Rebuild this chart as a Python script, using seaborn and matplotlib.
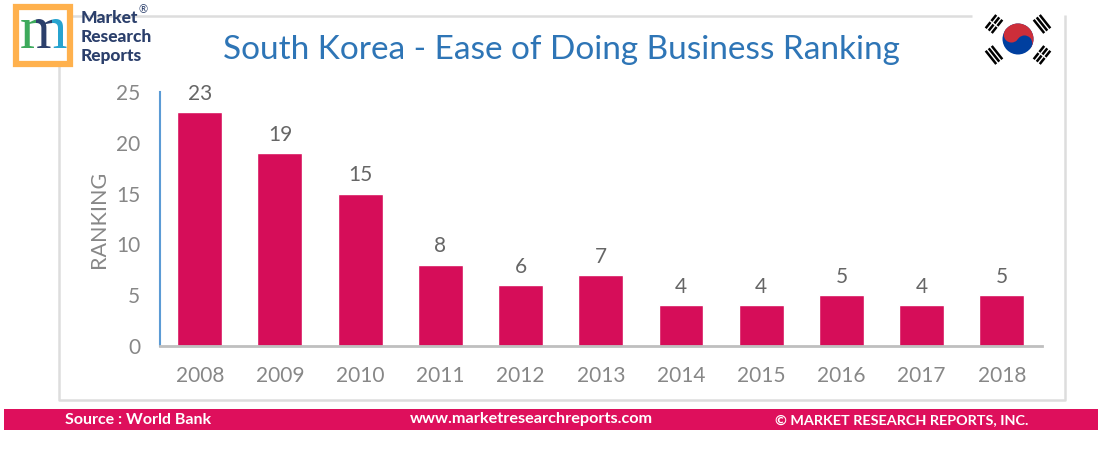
import matplotlib
matplotlib.use("Agg")
import matplotlib.pyplot as plt
import matplotlib.patches as mpatches
import numpy as np
import pandas as pd
import seaborn as sns

years = ["2008", "2009", "2010", "2011", "2012", "2013", "2014", "2015", "2016", "2017", "2018"]
ranking = [23, 19, 15, 8, 6, 7, 4, 4, 5, 4, 5]
y_ticks = [0, 5, 10, 15, 20, 25]

BAR = "#D60D59"
BANNER = "#DE0F5C"
GREY = "#878787"
FONT = "Lato"


def draw_flag(bg):
    """Korean flag, coordinates are figure pixels"""
    cx, cy, r = 1018, 39, 15.5
    a = 33
    bg.add_patch(mpatches.Circle((cx, cy), r, color="#003F9F", lw=0))
    bg.add_patch(mpatches.Wedge((cx, cy), r, a + 180, a + 360, color="#CD2E3A", lw=0))
    dx = r / 2 * np.cos(np.radians(a))
    dy = r / 2 * np.sin(np.radians(a))
    bg.add_patch(mpatches.Circle((cx - dx, cy - dy), r / 2, color="#CD2E3A", lw=0))
    bg.add_patch(mpatches.Circle((cx + dx, cy + dy), r / 2, color="#003F9F", lw=0))

    # the four trigrams
    for tx, ty, sx, sy in [(994, 24, -1, -1), (1042, 24, 1, -1), (994, 55, -1, 1), (1042, 55, 1, 1)]:
        ux, uy = sx * 0.78, sy * 0.62  # pointing away from the centre
        vx, vy = -uy, ux
        for k in [-1, 0, 1]:
            mx, my = tx + ux * k * 3.9, ty + uy * k * 3.9
            bg.plot([mx - vx * 8.5, mx + vx * 8.5], [my - vy * 8.5, my + vy * 8.5],
                    color="black", lw=1.8, solid_capstyle="butt")
        if sx * sy > 0:
            bg.plot([tx - ux * 7, tx + ux * 7], [ty - uy * 7, ty + uy * 7],
                    color="white", lw=1.0, solid_capstyle="butt")


def draw_logo(bg):
    bg.add_patch(mpatches.Rectangle((16, 7), 54, 57, fc="white", ec="#FFB14D", lw=4.5, zorder=3))
    for color, x0, w in [("#3DAA5C", 18, 18), ("#2B3F6B", 36, 16), ("#27A3CF", 52, 17)]:
        t = bg.text(43.5, 33, "m", family="Liberation Serif", fontsize=44, color=color,
                    ha="center", va="center", zorder=4, clip_on=True)
        t.set_clip_path(mpatches.Rectangle((x0, 8), w, 55, transform=bg.transData))
    for y, s in [(18, "Market"), (37, "Research"), (56, "Reports")]:
        bg.text(81, y, s, family=FONT, fontsize=12.5, fontweight="black", color="#2B3F6B",
                ha="left", va="center")
    bg.text(143, 10, "®", family=FONT, fontsize=8, color="#2B3F6B", ha="center", va="center")


sns.set_theme(style="white")
plt.rcParams["font.family"] = [FONT, "DejaVu Sans"]

fig = plt.figure(figsize=(11, 4.5), dpi=100)

# background layer in pixel coordinates for frame, banner and logos
bg = fig.add_axes([0, 0, 1, 1], zorder=0)
bg.set_xlim(0, 1100)
bg.set_ylim(450, 0)
bg.axis("off")

bg.plot([59, 59, 1065, 1065], [16, 399.5, 399.5, 15], color="#DDDDDD", lw=1.8, solid_capstyle="butt")
bg.plot([59, 972], [16, 16], color="#DDDDDD", lw=1.8, solid_capstyle="butt")
bg.add_patch(mpatches.Rectangle((4, 409), 1094, 21, fc=BANNER, ec="none"))

bg.text(561, 50, "South Korea - Ease of Doing Business Ranking", fontsize=24, color="#2E75B6",
        ha="center", va="center")
bg.text(138, 419.5, "Source : World Bank", fontsize=11.5, fontweight="bold", color="white",
        ha="center", va="center")
bg.text(531, 419, "www.marketresearchreports.com", fontsize=11.7, fontweight="bold", color="white",
        ha="center", va="center")
bg.text(902, 420.5, "© MARKET RESEARCH REPORTS, INC.", fontsize=10.4, fontweight="bold", color="white",
        ha="center", va="center")
bg.text(99, 219, "RANKING", fontsize=15.5, color=GREY, rotation=90, ha="center", va="center")

draw_logo(bg)
draw_flag(bg)

# main chart
ax = fig.add_axes([159.6 / 1100, 104 / 450, 882.4 / 1100, 254 / 450], zorder=1)
ax.patch.set_alpha(0)

df = pd.DataFrame({"year": years, "ranking": ranking})
sns.barplot(data=df, x="year", y="ranking", color=BAR, saturation=1, width=0.56, ax=ax)
ax.bar_label(ax.containers[0], fontsize=15, color="#666666", padding=6)

ax.set_xlim(-0.5, 10.5)
ax.set_ylim(0, 25)
ax.set_yticks(y_ticks)
ax.set_xlabel("")
ax.set_ylabel("")
ax.tick_params(axis="both", length=0, labelsize=15, labelcolor=GREY)
ax.tick_params(axis="x", pad=14.5)
ax.tick_params(axis="y", pad=14)
ax.grid(False)

sns.despine(ax=ax)
ax.spines["left"].set_color("#5B9BD5")
ax.spines["left"].set_linewidth(1.5)
ax.spines["bottom"].set_color("#BFBFBF")
ax.spines["bottom"].set_linewidth(2)

fig.savefig("out.png", dpi=100)
